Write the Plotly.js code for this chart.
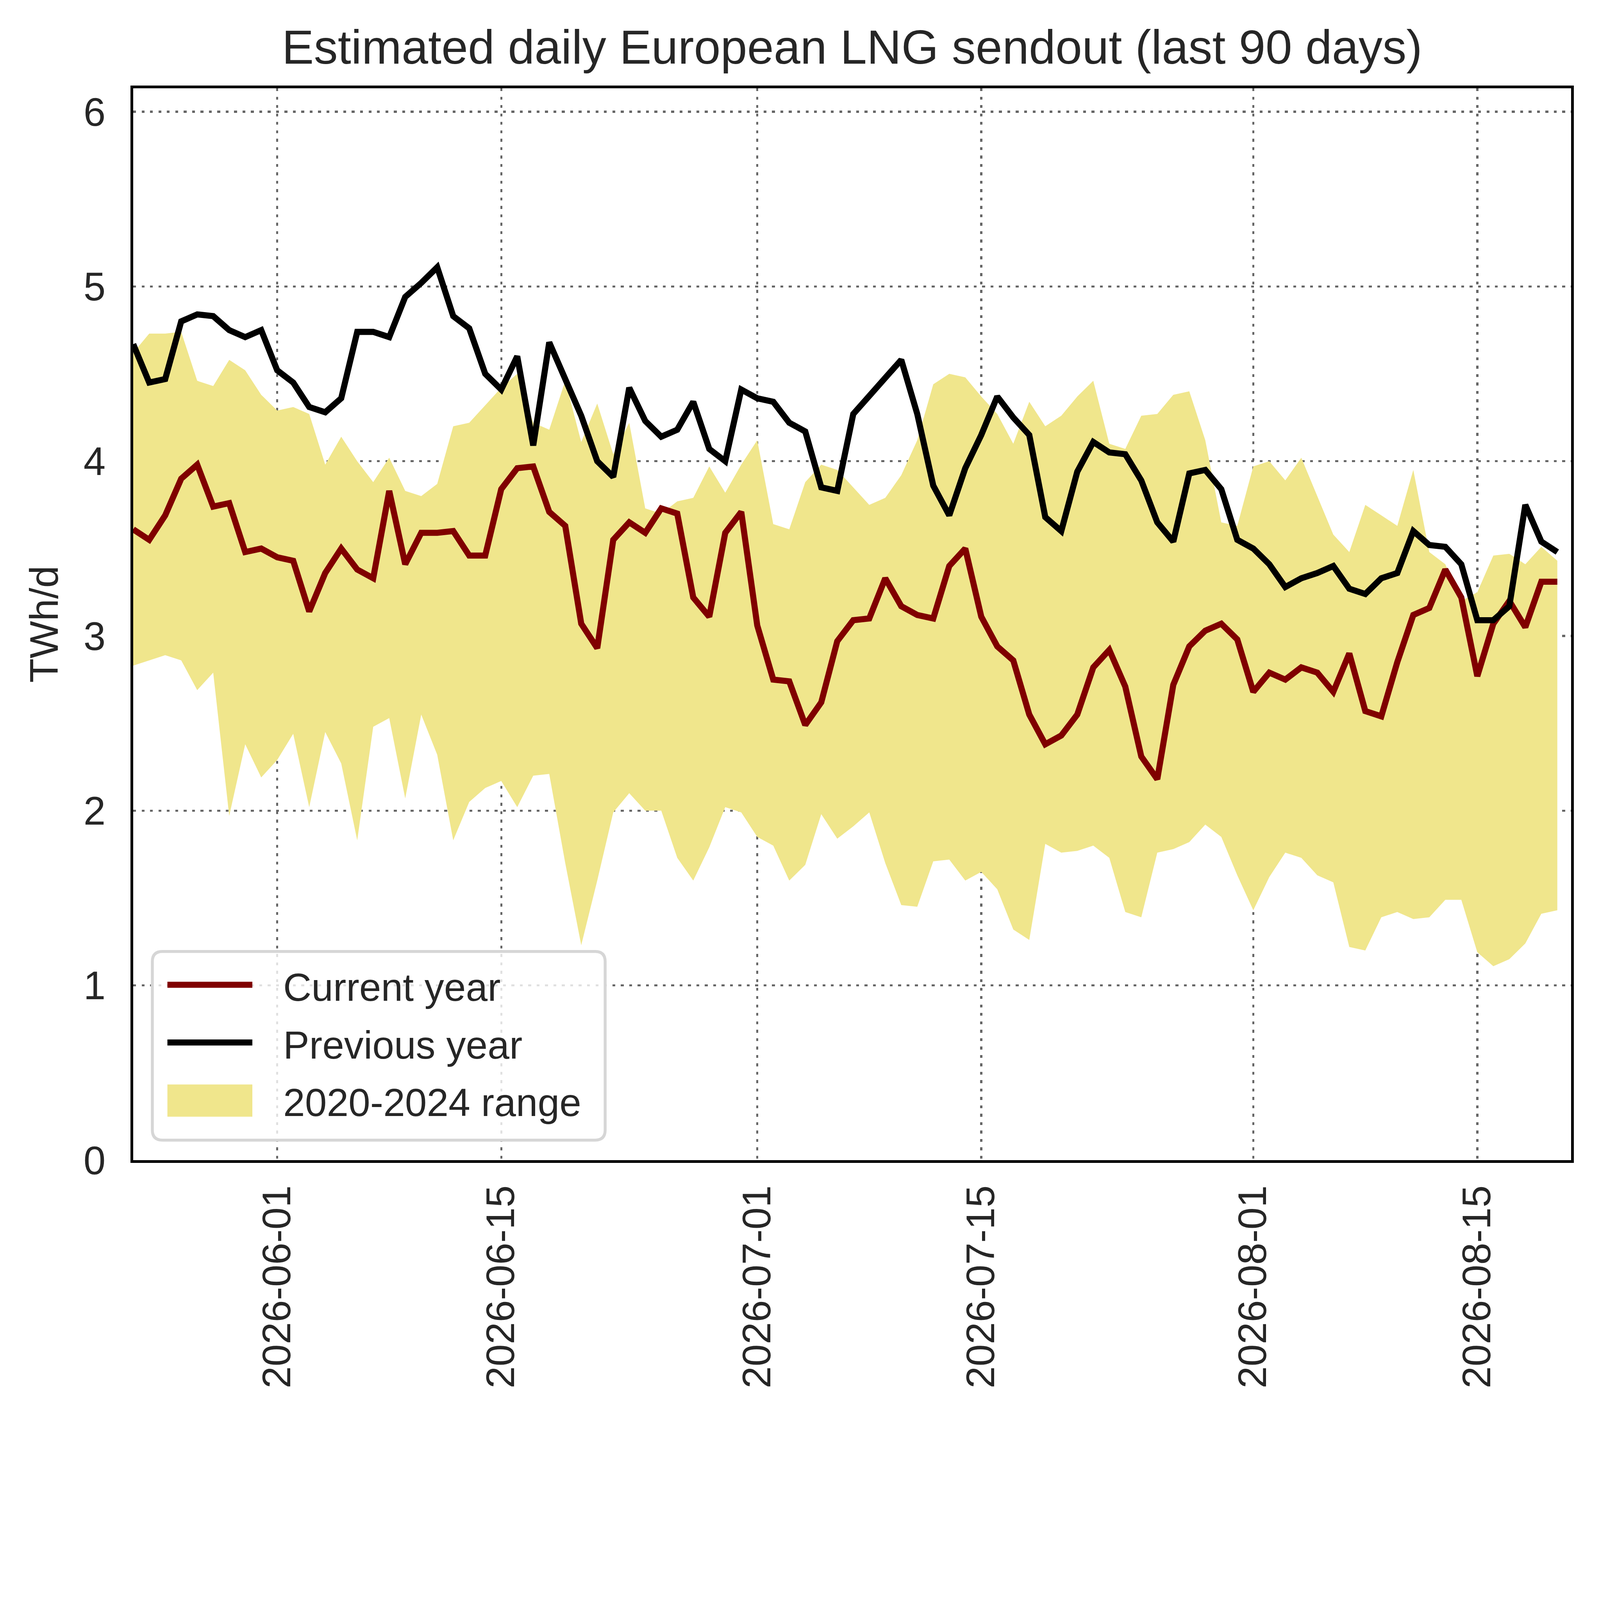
<!DOCTYPE html>
<html>
<head>
<meta charset="utf-8">
<script src="https://cdn.plot.ly/plotly-3.0.1.min.js"></script>
<style>html,body{margin:0;padding:0;background:#fff;overflow:hidden;}#chart{position:absolute;left:0;top:0;}</style>
</head>
<body>
<div id="chart"></div>
<script>
const dates = [
  "2026-05-23","2026-05-24","2026-05-25","2026-05-26","2026-05-27","2026-05-28","2026-05-29","2026-05-30","2026-05-31",
  "2026-06-01","2026-06-02","2026-06-03","2026-06-04","2026-06-05","2026-06-06","2026-06-07","2026-06-08","2026-06-09","2026-06-10",
  "2026-06-11","2026-06-12","2026-06-13","2026-06-14","2026-06-15","2026-06-16","2026-06-17","2026-06-18","2026-06-19","2026-06-20",
  "2026-06-21","2026-06-22","2026-06-23","2026-06-24","2026-06-25","2026-06-26","2026-06-27","2026-06-28","2026-06-29","2026-06-30",
  "2026-07-01","2026-07-02","2026-07-03","2026-07-04","2026-07-05","2026-07-06","2026-07-07","2026-07-08","2026-07-09","2026-07-10",
  "2026-07-11","2026-07-12","2026-07-13","2026-07-14","2026-07-15","2026-07-16","2026-07-17","2026-07-18","2026-07-19","2026-07-20",
  "2026-07-21","2026-07-22","2026-07-23","2026-07-24","2026-07-25","2026-07-26","2026-07-27","2026-07-28","2026-07-29","2026-07-30",
  "2026-07-31","2026-08-01","2026-08-02","2026-08-03","2026-08-04","2026-08-05","2026-08-06","2026-08-07","2026-08-08","2026-08-09",
  "2026-08-10","2026-08-11","2026-08-12","2026-08-13","2026-08-14","2026-08-15","2026-08-16","2026-08-17","2026-08-18","2026-08-19",
  "2026-08-20"
];

const currentYear = [
  3.61,3.55,3.69,3.90,3.98,3.74,3.76,3.48,3.50,3.45,3.43,3.14,3.36,3.50,3.38,3.33,3.83,3.41,3.59,3.59,3.60,3.46,3.46,
  3.84,3.96,3.97,3.71,3.63,3.07,2.93,3.55,3.65,3.59,3.73,3.70,3.22,3.11,3.59,3.71,3.06,2.75,2.74,2.49,2.62,2.97,
  3.09,3.10,3.33,3.17,3.12,3.10,3.40,3.50,3.11,2.94,2.86,2.55,2.38,2.43,2.55,2.82,2.92,2.71,2.31,2.18,2.72,2.94,3.03,
  3.07,2.98,2.68,2.79,2.75,2.82,2.79,2.68,2.90,2.57,2.54,2.85,3.12,3.16,3.38,3.22,2.77,3.07,3.20,3.05,3.31,3.31
];

const previousYear = [
  4.67,4.45,4.47,4.80,4.84,4.83,4.75,4.71,4.75,4.52,4.45,4.31,4.28,4.36,4.74,4.74,4.71,4.94,5.02,5.11,4.83,4.76,4.50,
  4.41,4.60,4.09,4.68,4.47,4.26,4.00,3.91,4.42,4.23,4.14,4.18,4.34,4.07,4.00,4.41,4.36,4.34,4.22,4.17,3.85,3.83,
  4.27,4.37,4.48,4.58,4.27,3.86,3.69,3.96,4.15,4.37,4.25,4.15,3.68,3.60,3.94,4.11,4.05,4.04,3.89,3.65,3.54,3.93,3.95,
  3.84,3.55,3.50,3.41,3.28,3.33,3.36,3.40,3.27,3.24,3.33,3.36,3.60,3.52,3.51,3.41,3.09,3.09,3.17,3.75,3.54,3.48
];

const rangeMax = [
  4.62,4.73,4.73,4.74,4.46,4.43,4.58,4.52,4.38,4.29,4.31,4.27,3.98,4.14,4.00,3.88,4.02,3.83,3.80,3.87,4.20,4.22,4.32,
  4.42,4.50,4.22,4.18,4.46,4.11,4.33,4.04,4.22,3.73,3.70,3.77,3.79,3.97,3.82,3.98,4.12,3.64,3.61,3.88,3.98,3.95,
  3.85,3.75,3.79,3.92,4.12,4.44,4.50,4.48,4.37,4.27,4.10,4.34,4.20,4.26,4.37,4.46,4.10,4.07,4.26,4.27,4.38,4.40,4.12,
  3.65,3.63,3.97,4.00,3.89,4.02,3.80,3.58,3.48,3.75,3.69,3.63,3.95,3.48,3.41,3.20,3.25,3.46,3.47,3.41,3.51,3.43
];

const rangeMin = [
  2.83,2.86,2.89,2.86,2.69,2.79,1.97,2.38,2.19,2.29,2.44,2.02,2.45,2.27,1.83,2.48,2.53,2.07,2.55,2.32,1.83,2.05,2.13,
  2.17,2.02,2.20,2.21,1.70,1.23,1.60,1.99,2.10,2.00,2.00,1.73,1.60,1.79,2.02,1.99,1.85,1.80,1.60,1.69,1.98,1.84,
  1.91,1.99,1.70,1.46,1.45,1.71,1.72,1.60,1.65,1.55,1.32,1.26,1.81,1.76,1.77,1.80,1.73,1.42,1.39,1.76,1.78,1.82,1.92,
  1.85,1.63,1.43,1.62,1.76,1.73,1.63,1.59,1.22,1.20,1.39,1.42,1.38,1.39,1.49,1.49,1.19,1.11,1.15,1.24,1.41,1.43
];

const xTickVals = ["2026-06-01","2026-06-15","2026-07-01","2026-07-15","2026-08-01","2026-08-15"];
const xTickText = ["2026-06-01","2026-06-15","2026-07-01","2026-07-15","2026-08-01","2026-08-15"];
const yTickVals = [0,1,2,3,4,5,6];
const yTickText = ["0","1","2","3","4","5","6"];
const legendLabels = ["Current year","Previous year","2020-2024 range"];

const FONT = "'Liberation Sans', Arial, Helvetica, sans-serif";
const TXT = "#262626";
const KHAKI = "#F0E68C";
const RED = "#800000";
const BLACK = "#000000";

// design size of the reference, scaled to the actual window
const REF_W = 5520, REF_H = 4906;
const W = window.innerWidth || REF_W, H = window.innerHeight || REF_H;
const s = Math.min(W / REF_W, H / REF_H);
const px = v => v * s;

const M = {l: 460, r: 100, t: 305, b: 903};
const plotW = REF_W - M.l - M.r, plotH = REF_H - M.t - M.b;
// reference-pixel -> paper coordinate helpers (for legend layout only)
const fx = X => (X - M.l) / plotW;
const fy = Y => (REF_H - M.b - Y) / plotH;

const traces = [
  {x: dates, y: rangeMin, type: "scatter", mode: "lines", line: {width: 0, color: KHAKI},
   showlegend: false, hoverinfo: "skip", name: "min"},
  {x: dates, y: rangeMax, type: "scatter", mode: "lines", line: {width: 0, color: KHAKI},
   fill: "tonexty", fillcolor: KHAKI, name: legendLabels[2], showlegend: false},
  {x: dates, y: currentYear, type: "scatter", mode: "lines",
   line: {color: RED, width: px(21)}, name: legendLabels[0], showlegend: false},
  {x: dates, y: previousYear, type: "scatter", mode: "lines",
   line: {color: BLACK, width: px(21)}, name: legendLabels[1], showlegend: false}
];

// legend (drawn as a framed box like the reference)
const LB = {x0: 526, x1: 2088, y0: 3283, y1: 3934, r: 35};
function roundRect(b) {
  const x0 = fx(b.x0), x1 = fx(b.x1), yT = fy(b.y0), yB = fy(b.y1);
  const rx = b.r / plotW, ry = b.r / plotH;
  return `M${x0 + rx},${yB} L${x1 - rx},${yB} Q${x1},${yB} ${x1},${yB + ry} ` +
         `L${x1},${yT - ry} Q${x1},${yT} ${x1 - rx},${yT} L${x0 + rx},${yT} ` +
         `Q${x0},${yT} ${x0},${yT - ry} L${x0},${yB + ry} Q${x0},${yB} ${x0 + rx},${yB} Z`;
}
const rowY = [3398, 3597, 3796];
const swX0 = 578, swX1 = 871, textX = 975;
const shapes = [
  {type: "path", xref: "paper", yref: "paper", path: roundRect(LB), layer: "above",
   fillcolor: "rgba(255,255,255,0.8)", line: {color: "#d6d6d6", width: px(10)}},
  {type: "line", xref: "paper", yref: "paper", layer: "above",
   x0: fx(swX0), x1: fx(swX1), y0: fy(rowY[0]), y1: fy(rowY[0]), line: {color: RED, width: px(21)}},
  {type: "line", xref: "paper", yref: "paper", layer: "above",
   x0: fx(swX0), x1: fx(swX1), y0: fy(rowY[1]), y1: fy(rowY[1]), line: {color: BLACK, width: px(21)}},
  {type: "rect", xref: "paper", yref: "paper", layer: "above",
   x0: fx(swX0), x1: fx(swX1), y0: fy(3742), y1: fy(3853), fillcolor: KHAKI, line: {width: 0}}
];
const annotations = legendLabels.map((t, i) => ({
  text: t, xref: "paper", yref: "paper", x: fx(textX), y: fy(rowY[i] + 8),
  xanchor: "left", yanchor: "middle", showarrow: false,
  font: {family: FONT, size: px(135), color: TXT}
}));

const gridCommon = {showgrid: true, gridcolor: "#666666", gridwidth: px(7),
                    griddash: `${px(10)}px,${px(19)}px`};

const layout = {
  width: px(REF_W), height: px(REF_H),
  paper_bgcolor: "#ffffff", plot_bgcolor: "#ffffff",
  margin: {l: px(M.l), r: px(M.r), t: px(M.t), b: px(M.b), autoexpand: false},
  font: {family: FONT, color: TXT, size: px(137)},
  title: {text: "Estimated daily European LNG sendout (last 90 days)",
          font: {family: FONT, size: px(165), color: TXT},
          x: 0.5, xref: "paper", y: 1 - 162 / REF_H, yref: "container", yanchor: "middle"},
  xaxis: Object.assign({
    type: "date", range: ["2026-05-23 00:00", "2026-08-20 20:40"],
    tickvals: xTickVals, ticktext: xTickText, tickangle: -90,
    tickfont: {family: FONT, size: px(137), color: TXT},
    ticks: "outside", ticklen: px(22), tickwidth: 1, tickcolor: "rgba(0,0,0,0)",
    showline: true, linecolor: BLACK, linewidth: px(10), mirror: true,
    zeroline: false, automargin: false, fixedrange: true
  }, gridCommon),
  yaxis: Object.assign({
    range: [0, 6.134], tickvals: yTickVals, ticktext: yTickText,
    tickfont: {family: FONT, size: px(137), color: TXT},
    ticks: "outside", ticklen: px(58), tickwidth: 1, tickcolor: "rgba(0,0,0,0)",
    showline: true, linecolor: BLACK, linewidth: px(10), mirror: true,
    zeroline: false, fixedrange: true,
    title: {text: "TWh/d", font: {family: FONT, size: px(137), color: TXT}, standoff: px(45)},
    automargin: true
  }, gridCommon),
  showlegend: false,
  shapes: shapes,
  annotations: annotations
};

Plotly.newPlot("chart", traces, layout, {displayModeBar: false, staticPlot: true});
</script>
</body>
</html>
